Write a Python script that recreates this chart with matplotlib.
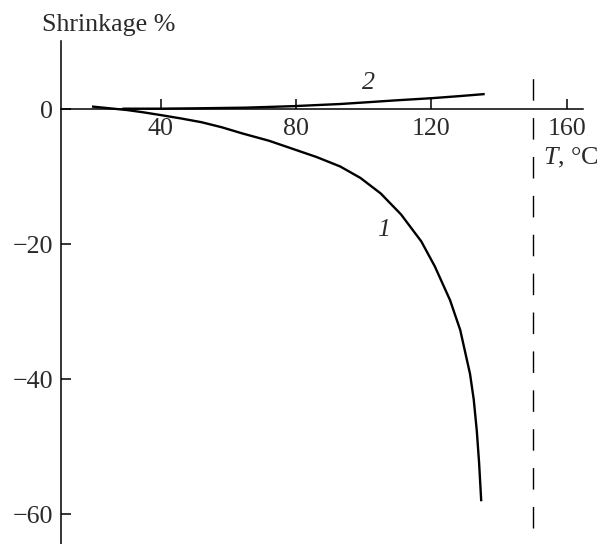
import matplotlib.pyplot as plt

plt.rcParams['font.family'] = 'Liberation Serif'
plt.rcParams['mathtext.fontset'] = 'custom'
plt.rcParams['mathtext.it'] = 'Liberation Serif:italic'
plt.rcParams['mathtext.rm'] = 'Liberation Serif'

# curve 1 (shrinkage, falls steeply)
t1 = [20, 25, 30, 35, 40, 46, 52, 58, 64, 72, 79, 86, 93, 99, 105, 111, 117, 121,
      125.5, 128.5, 131.4, 132.5, 133.4, 134.1, 134.7]
s1 = [0.35, 0.1, -0.15, -0.5, -0.9, -1.4, -1.95, -2.7, -3.6, -4.7, -5.9, -7.1, -8.5,
      -10.2, -12.5, -15.6, -19.6, -23.3, -28.3, -32.7, -39.2, -43.0, -47.6, -52.5, -57.9]

# curve 2 (slight expansion)
t2 = [29, 40, 50, 65, 79, 93, 101, 110, 120, 128, 135.4]
s2 = [0.05, 0.05, 0.1, 0.2, 0.42, 0.74, 1.0, 1.3, 1.6, 1.9, 2.2]

xticks = [40, 80, 120, 160]
yticks = [0, -20, -40, -60]

# vertical dashed marker
dash_t = 150
dash_lo, dash_hi = -62, 7

txt = '#2a2a2a'
fs = 18.7

fig = plt.figure(figsize=(6.02, 5.44), dpi=100)
ax = fig.add_axes([61 / 602, 0, 522 / 602, 1 - 41 / 544])

ax.plot(t1, s1, color='black', lw=1.7)
ax.plot(t2, s2, color='black', lw=1.7)
ax.vlines(dash_t, dash_lo, dash_hi, color='black', lw=1.0, linestyles=(0, (15.5, 12.5)))

ax.set_xlim(10.5, 164.8)
ax.set_ylim(-64.4, 10.07)

for side in ['top', 'right']:
    ax.spines[side].set_visible(False)
ax.spines['bottom'].set_position(('data', 0))
ax.spines['left'].set_linewidth(1.1)
ax.spines['bottom'].set_linewidth(1.1)

ax.set_xticks(xticks)
ax.set_yticks(yticks)
ax.tick_params(direction='in', length=7, width=1.1, labelsize=fs, labelcolor=txt)
ax.tick_params(axis='x', pad=6.5)
ax.tick_params(axis='y', pad=5.5)

ax.text(101.3, 3.8, '2', fontsize=fs, style='italic', color=txt, ha='center', va='center')
ax.text(105.8, -17.9, '1', fontsize=fs, style='italic', color=txt, ha='center', va='center')

fig.text(42 / 602, 1 - 25 / 544, 'Shrinkage %', fontsize=fs, color=txt, ha='left', va='center')
fig.text(543 / 602, 1 - 158 / 544, '$T$, °C', fontsize=fs, color=txt, ha='left', va='center')

fig.savefig('out.png', dpi=100)
